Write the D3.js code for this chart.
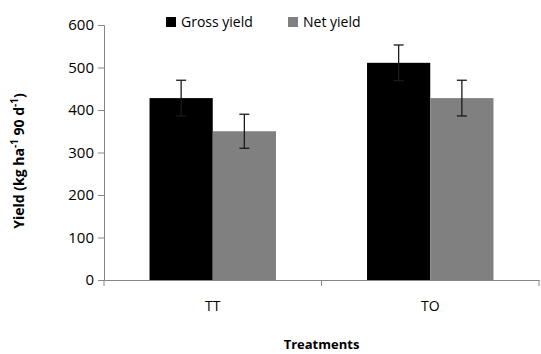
<!DOCTYPE html>
<html>
<head>
<meta charset="utf-8">
<script src="https://cdn.jsdelivr.net/npm/d3@7"></script>
<style>
  body { margin: 0; background: #fff; }
  svg { font-family: "Open Sans", sans-serif; }
</style>
</head>
<body>
<div id="canva"></div>
<script>
const treatments = ["TT", "TO"];
const seriesNames = ["Gross yield", "Net yield"];
const grossYield = [428, 511];
const netYield = [350, 428];
const grossErr = [42, 42];
const netErr = [40, 42];
const yTicks = [0, 100, 200, 300, 400, 500, 600];

const colors = { "Gross yield": "#000000", "Net yield": "#808080" };

const width = 541;
const height = 354;
const margin = { top: 25, right: 2, bottom: 74, left: 104 };

const data = [];
treatments.forEach((t, i) => {
    data.push({ treatment: t, series: "Gross yield", value: grossYield[i], err: grossErr[i] });
    data.push({ treatment: t, series: "Net yield", value: netYield[i], err: netErr[i] });
});

const svg = d3.select("#canva").append("svg")
    .attr("width", width)
    .attr("height", height);

const x = d3.scaleBand()
    .domain(treatments)
    .range([margin.left, width - margin.right])
    .paddingInner(0)
    .paddingOuter(0);

const xInner = d3.scaleBand()
    .domain(seriesNames)
    .range([0, x.bandwidth()])
    .paddingInner(0)
    .paddingOuter(0.72);

const y = d3.scaleLinear()
    .domain([0, 600])
    .range([height - margin.bottom, margin.top]);

// bars
svg.append("g")
    .selectAll("rect")
    .data(data)
    .join("rect")
        .attr("x", d => x(d.treatment) + xInner(d.series))
        .attr("y", d => y(d.value))
        .attr("width", xInner.bandwidth())
        .attr("height", d => y(0) - y(d.value))
        .attr("fill", d => colors[d.series]);

// error bars
const errG = svg.append("g")
    .attr("stroke", "#1a1a1a")
    .attr("stroke-width", 1.3);

data.forEach(d => {
    const cx = x(d.treatment) + xInner(d.series) + xInner.bandwidth() / 2;
    errG.append("line")
        .attr("x1", cx).attr("x2", cx)
        .attr("y1", y(d.value - d.err)).attr("y2", y(d.value + d.err));
    [d.value - d.err, d.value + d.err].forEach(v => {
        errG.append("line")
            .attr("x1", cx - 5).attr("x2", cx + 5)
            .attr("y1", y(v)).attr("y2", y(v));
    });
});

// y axis
function yAxis(g) {
    g.attr("transform", `translate(${margin.left}, 0)`)
        .call(d3.axisLeft(y).tickValues(yTicks).tickSize(6).tickPadding(4))
        .call(g => g.selectAll(".domain, .tick line").attr("stroke", "#868686"))
        .selectAll("text")
            .attr("font-size", "15px")
            .attr("fill", "#000")
            .style("font-family", "'Open Sans', sans-serif");
}

// x axis
function xAxis(g) {
    g.attr("transform", `translate(0, ${y(0)})`)
        .call(d3.axisBottom(x).tickSize(0).tickPadding(21))
        .call(g => g.select(".domain").attr("stroke", "#868686"))
        .selectAll("text")
            .attr("font-size", "14px")
            .attr("fill", "#000")
            .style("font-family", "'Open Sans', sans-serif");

    // tick marks at band boundaries
    const edges = [margin.left].concat(treatments.map(t => x(t) + x.bandwidth()));
    g.selectAll(".edge")
        .data(edges)
        .join("line")
            .attr("class", "edge")
            .attr("x1", d => d).attr("x2", d => d)
            .attr("y1", 0).attr("y2", 6)
            .attr("stroke", "#868686");
}

svg.append("g").call(yAxis);
svg.append("g").call(xAxis);

// axis titles
const yLabel = svg.append("text")
    .attr("transform", `translate(24, 161) rotate(-90)`)
    .attr("text-anchor", "middle")
    .attr("font-size", "14px")
    .attr("font-weight", "bold");
yLabel.append("tspan").text("Yield (kg ha");
yLabel.append("tspan").attr("dy", -6).attr("font-size", "10px").text("-1");
yLabel.append("tspan").attr("dy", 6).text(" 90 d");
yLabel.append("tspan").attr("dy", -6).attr("font-size", "10px").text("-1");
yLabel.append("tspan").attr("dy", 6).text(")");

svg.append("text")
    .attr("x", (margin.left + width - margin.right) / 2)
    .attr("y", 349)
    .attr("text-anchor", "middle")
    .attr("font-size", "13px")
    .attr("font-weight", "bold")
    .text("Treatments");

// legend
const legendX = [166, 288];
const legend = svg.append("g")
    .selectAll("g")
    .data(seriesNames)
    .join("g")
        .attr("transform", (d, i) => `translate(${legendX[i]}, 17)`);

legend.append("rect")
    .attr("width", 10)
    .attr("height", 10)
    .attr("fill", d => colors[d]);

legend.append("text")
    .attr("x", 15)
    .attr("y", 10)
    .attr("font-size", "14px")
    .text(d => d);
</script>
</body>
</html>
